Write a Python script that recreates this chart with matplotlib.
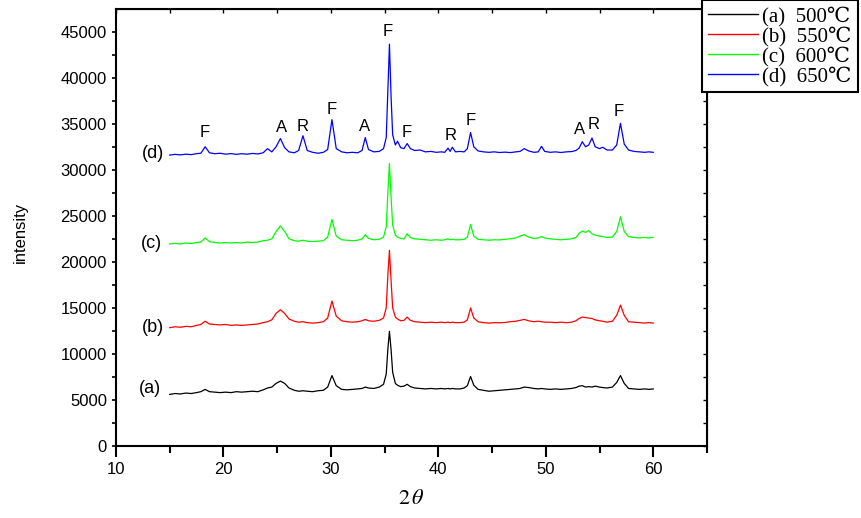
import matplotlib
matplotlib.use("Agg")
import matplotlib.pyplot as plt

# 2-theta grid (deg), shared by all four patterns
two_theta = [
    15.0, 15.5, 16.0, 16.5, 17.0, 17.5, 17.9, 18.3, 18.7, 19.2,
    19.7, 20.2, 20.7, 21.2, 21.7, 22.2, 22.7, 23.2, 23.7, 24.1,
    24.5, 24.9, 25.3, 25.7, 26.1, 26.6, 27.0, 27.4, 27.8, 28.3,
    28.8, 29.3, 29.7, 30.1, 30.5, 31.0, 31.5, 32.0, 32.5, 32.9,
    33.2, 33.5, 34.0, 34.5, 34.9, 35.15, 35.3, 35.45, 35.6, 35.75,
    36.0, 36.2, 36.5, 36.8, 37.1, 37.4, 37.8, 38.3, 38.8, 39.3,
    39.8, 40.3, 40.6, 40.9, 41.1, 41.3, 41.6, 42.0, 42.4, 42.7,
    43.0, 43.3, 43.7, 44.2, 44.7, 45.2, 45.7, 46.2, 46.7, 47.2,
    47.6, 48.0, 48.4, 48.9, 49.3, 49.6, 49.9, 50.4, 50.9, 51.4,
    51.9, 52.4, 52.8, 53.1, 53.4, 53.7, 54.0, 54.3, 54.6, 55.0,
    55.3, 55.7, 56.2, 56.6, 56.95, 57.3, 57.7, 58.2, 58.7, 59.2,
    59.6, 60.0,
]

# (a) 500 C
int_500 = [
    5600, 5700, 5650, 5750, 5700, 5800, 5900, 6150, 5900, 5850,
    5800, 5850, 5800, 5900, 5850, 5900, 5950, 5900, 6100, 6300,
    6400, 6800, 7050, 6800, 6300, 6050, 5950, 6000, 5950, 5900,
    6000, 6050, 6400, 7650, 6550, 6150, 6100, 6150, 6200, 6250,
    6400, 6300, 6250, 6400, 6700, 7800, 10500, 12450, 10500, 8000,
    6800, 6600, 6450, 6500, 6700, 6450, 6300, 6250, 6200, 6250,
    6200, 6250, 6200, 6250, 6200, 6250, 6200, 6200, 6300, 6550,
    7550, 6600, 6150, 6050, 5950, 6000, 6050, 6100, 6150, 6200,
    6250, 6400, 6350, 6250, 6200, 6250, 6200, 6150, 6200, 6150,
    6200, 6250, 6350, 6500, 6550, 6400, 6450, 6400, 6500, 6400,
    6350, 6300, 6400, 6900, 7650, 6800, 6250, 6200, 6150, 6200,
    6150, 6200,
]

# (b) 550 C
int_550 = [
    12850, 12950, 12900, 13000, 12950, 13100, 13200, 13550, 13250, 13200,
    13150, 13200, 13100, 13150, 13100, 13150, 13200, 13250, 13400, 13500,
    13700, 14400, 14800, 14400, 13800, 13550, 13450, 13500, 13400, 13350,
    13400, 13500, 13900, 15750, 14100, 13600, 13500, 13450, 13500, 13600,
    13750, 13600, 13550, 13650, 13900, 15000, 18500, 21250, 18000, 15000,
    14000, 13800, 13600, 13650, 14000, 13650, 13500, 13450, 13400, 13450,
    13400, 13450, 13400, 13450, 13400, 13450, 13400, 13400, 13450, 13700,
    15000, 13900, 13500, 13400, 13350, 13400, 13380, 13420, 13500, 13550,
    13650, 13750, 13600, 13500, 13550, 13500, 13450, 13450, 13400, 13450,
    13400, 13450, 13600, 13850, 14000, 13950, 13900, 13850, 13700, 13600,
    13550, 13450, 13550, 14200, 15300, 14200, 13500, 13450, 13400, 13350,
    13400, 13350,
]

# (c) 600 C
int_600 = [
    21950, 22000, 21950, 22050, 22000, 22100, 22150, 22600, 22200, 22100,
    22050, 22100, 22050, 22100, 22050, 22150, 22100, 22150, 22300, 22350,
    22500, 23300, 23900, 23300, 22500, 22300, 22250, 22350, 22250, 22200,
    22250, 22300, 22700, 24600, 22800, 22400, 22350, 22300, 22350, 22500,
    22950, 22550, 22400, 22450, 22700, 23800, 27500, 30700, 27000, 24000,
    22900, 22700, 22550, 22500, 23050, 22650, 22500, 22450, 22400, 22350,
    22400, 22350, 22400, 22500, 22400, 22450, 22400, 22400, 22450, 22700,
    24050, 22800, 22450, 22400, 22350, 22400, 22380, 22450, 22500, 22600,
    22800, 22950, 22700, 22550, 22600, 22750, 22600, 22500, 22450, 22400,
    22450, 22500, 22650, 23100, 23350, 23200, 23400, 23050, 22900, 22800,
    22750, 22650, 22700, 23300, 24900, 23300, 22750, 22650, 22600, 22650,
    22600, 22650,
]

# (d) 650 C
int_650 = [
    31600, 31680, 31620, 31700, 31650, 31750, 31800, 32500, 31850, 31750,
    31800, 31700, 31760, 31680, 31750, 31700, 31780, 31720, 31850, 32300,
    31950, 32500, 33400, 32400, 31950, 31850, 32100, 33700, 32100, 31900,
    31800, 31900, 32200, 35450, 32300, 31950, 31850, 31900, 31850, 32100,
    33500, 32200, 31950, 32000, 32300, 33500, 38500, 43650, 38000, 33800,
    32700, 33100, 32400, 32300, 32850, 32300, 32100, 32150, 31950, 32000,
    31900, 31950, 31900, 32350, 32000, 32450, 31950, 32000, 31950, 32300,
    34050, 32500, 32050, 31950, 31900, 31950, 31880, 31920, 31870, 31950,
    32000, 32300, 32050, 31900, 31950, 32550, 32000, 31900, 31950, 31880,
    31950, 31980, 32100, 32350, 33050, 32500, 32700, 33450, 32500, 32300,
    32450, 32150, 32150, 32700, 35050, 32800, 32150, 32000, 31950, 31900,
    31950, 31900,
]

legend_labels = ["(a)  500℃", "(b)  550℃", "(c)  600℃", "(d)  650℃"]
curve_tags = ["(a)", "(b)", "(c)", "(d)"]
tag_pos = [(13.2, 6290), (13.4, 12900), (13.3, 22010), (13.4, 31770)]

# phase marks above pattern (d): F, A, R
phase_marks = ["F", "A", "R", "F", "A", "F", "F", "R", "F", "A", "R", "F"]
phase_x = [18.3, 25.4, 27.4, 30.06, 33.16, 35.33, 37.04, 41.13, 43.0, 53.1, 54.46, 56.82]
phase_y = [34080, 34620, 34700, 36510, 34700, 45030, 34080, 33720, 35350, 34340, 34910, 36360]

colors = ["#000000", "#ff0000", "#00ff00", "#0000ff"]
series = [int_500, int_550, int_600, int_650]

sans = ["Liberation Sans", "DejaVu Sans"]
serif = ["Liberation Serif", "DejaVu Serif"]
plt.rcParams["font.family"] = sans
plt.rcParams["mathtext.fontset"] = "stix"

fig = plt.figure(figsize=(8.61, 5.18), dpi=100)
ax = fig.add_axes([0.1347, 0.139, 0.6864, 0.8442])

handles = []
for y, c, lab in zip(series, colors, legend_labels):
    (ln,) = ax.plot(two_theta, y, color=c, linewidth=0.9, label=lab)
    handles.append(ln)

for tag, (tx, ty) in zip(curve_tags, tag_pos):
    ax.text(tx, ty, tag, fontsize=13, ha="center", va="center")

for m, px, py in zip(phase_marks, phase_x, phase_y):
    ax.text(px, py, m, fontsize=12, ha="center", va="center")

ax.set_xlim(10, 65)
ax.set_ylim(0, 47500)
ax.set_xticks(range(10, 61, 10))
ax.set_xticks(range(15, 66, 10), minor=True)
ax.set_yticks(range(0, 45001, 5000))
ax.set_yticks(range(2500, 47500, 5000), minor=True)
ax.tick_params(axis="x", which="major", direction="out", length=8, width=1.5, labelsize=12)
ax.tick_params(axis="x", which="minor", direction="out", length=5, width=1.5)
ax.tick_params(axis="y", which="both", direction="out", length=3, width=1.2, labelsize=12)
for s in ax.spines.values():
    s.set_linewidth(1.5)

top = ax.secondary_xaxis("top")
top.set_xticks(range(10, 66, 5))
top.tick_params(direction="in", length=3, width=1.0, labeltop=False)
right = ax.secondary_yaxis("right")
right.set_yticks(range(0, 47500, 2500))
right.tick_params(direction="in", length=3, width=1.0, labelright=False)

ax.set_xlabel(r"$2\,\theta$", fontsize=16, labelpad=8)
fig.text(20 / 861, 1 - 232 / 518, "intensity", rotation=90, fontsize=12,
         ha="center", va="center")

leg = fig.legend(handles=handles, loc="upper left", bbox_to_anchor=(0.8153, 1.0),
                 borderaxespad=0, fancybox=False, framealpha=1, edgecolor="black",
                 prop={"family": serif, "size": 15}, handlelength=2.4,
                 handletextpad=0.2, labelspacing=0.0, borderpad=0.3)
leg.get_frame().set_linewidth(1.5)
for ln in leg.get_lines():
    ln.set_linewidth(1.0)

fig.savefig("out.png", dpi=100)
